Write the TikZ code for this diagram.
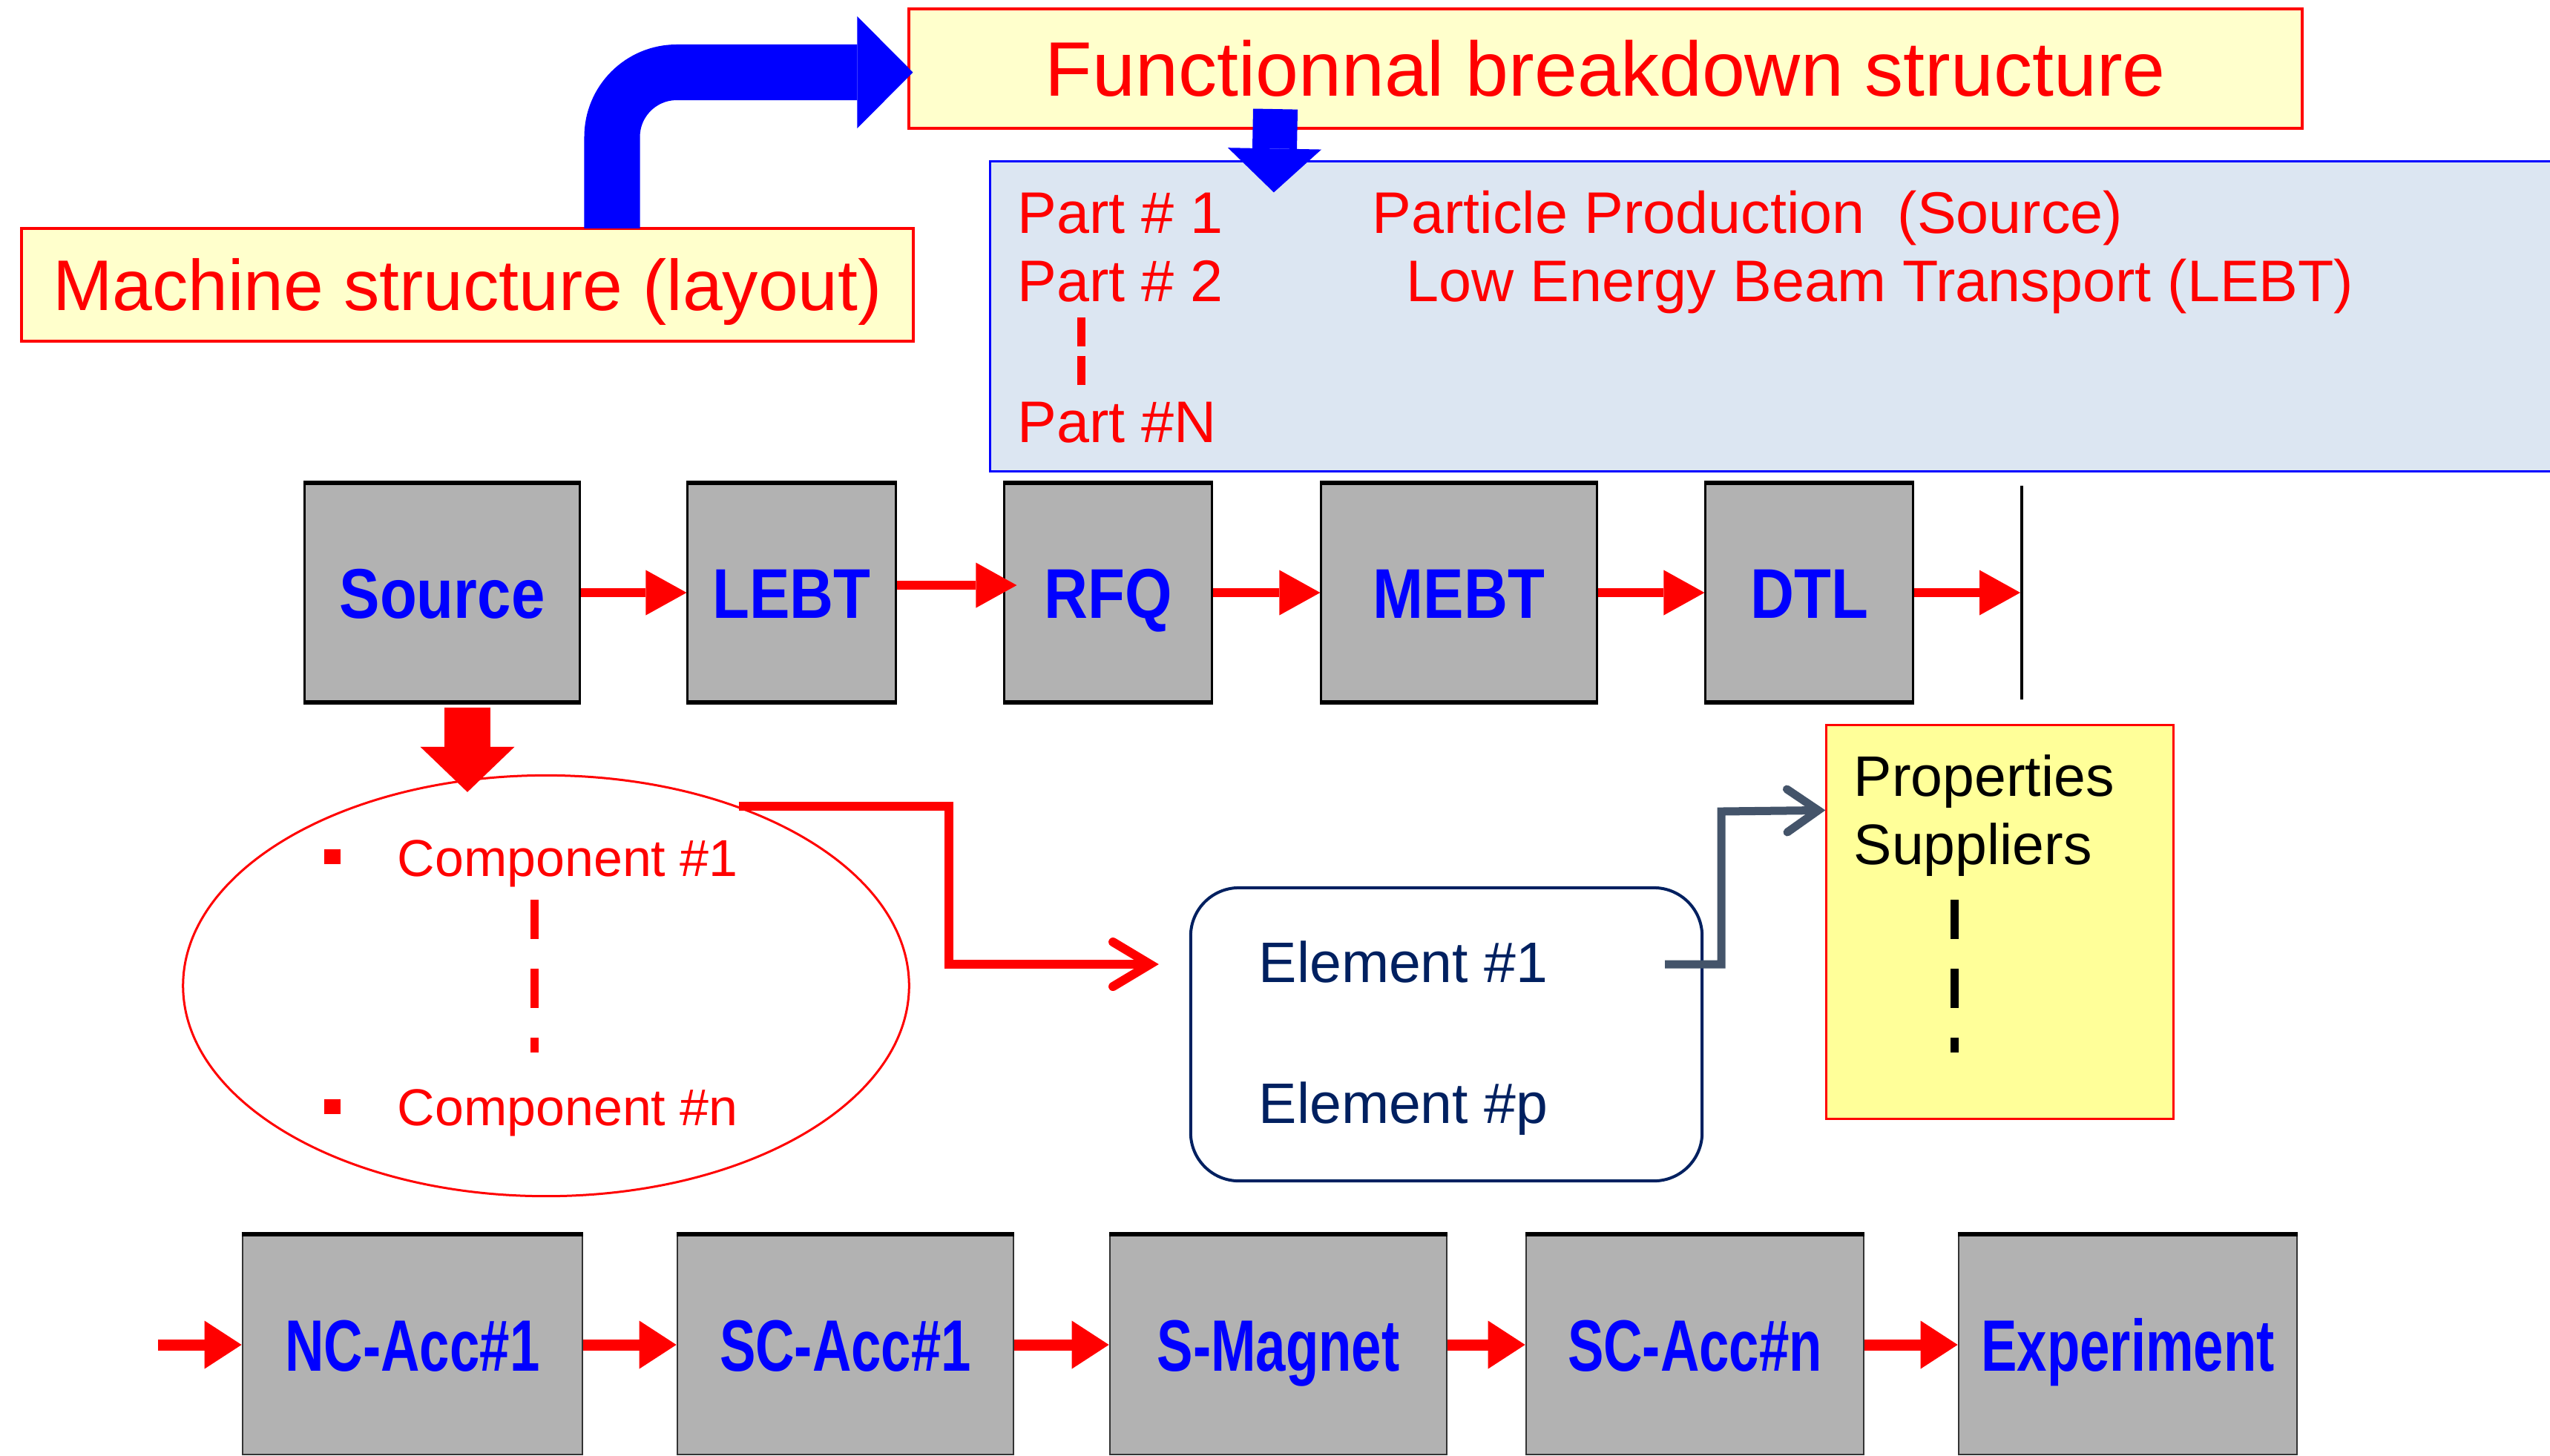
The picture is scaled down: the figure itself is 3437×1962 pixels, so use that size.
\documentclass[tikz,border=0pt]{standalone}
\usepackage{fontspec}
\usepackage{graphicx}
\setmainfont{Liberation Sans}
\newfontfamily\condA[FakeStretch=0.86]{Liberation Sans}
\newfontfamily\condB[FakeStretch=0.74]{Liberation Sans}
\usetikzlibrary{arrows.meta,shapes.geometric,calc}
\definecolor{lightyel}{HTML}{FFFFCC}
\definecolor{partsblue}{HTML}{DCE6F2}
\definecolor{boxgray}{HTML}{B2B2B2}
\definecolor{navy}{HTML}{002060}
\definecolor{slate}{HTML}{44546A}
\definecolor{propyel}{HTML}{FFFF99}
\begin{document}
\begin{tikzpicture}[x=0.01cm,y=-0.01cm,
  titlebox/.style={draw=red, line width=0.4mm, fill=lightyel, inner sep=0pt, text=red, text depth=0pt},
  graybox/.style={draw=black, line width=0.3mm, fill=boxgray, inner sep=0pt, minimum height=2.92cm,
    text=blue, text height=6.8mm, text depth=0pt, font=\fontsize{27pt}{30pt}\condA\bfseries},
  lowbox/.style={draw=black!80, line width=0.25mm, fill=boxgray, inner sep=0pt, minimum height=2.96cm,
    text=blue, text height=7mm, text depth=0pt, font=\fontsize{27.9pt}{31pt}\condB\bfseries},
  parttext/.style={text=red, inner sep=0pt, anchor=base west, font=\fontsize{22.5pt}{27pt}\selectfont},
  comptext/.style={text=red, inner sep=0pt, anchor=base west, font=\fontsize{19.9pt}{24pt}\selectfont},
  elemtext/.style={text=navy, inner sep=0pt, anchor=base west, font=\fontsize{21.9pt}{26pt}\selectfont},
  proptext/.style={text=black, inner sep=0pt, anchor=base west, font=\fontsize{21.9pt}{26pt}\selectfont},
  rowarrow/.style={draw=red, line width=1.2mm, -{Triangle[length=5.5mm,width=6.1mm,line width=0pt]}},
  botarrow/.style={draw=red, line width=1.5mm, -{Triangle[length=5mm,width=6.5mm,line width=0pt]}},
  bullet/.style={fill=red, inner sep=0pt, minimum width=2.2mm, minimum height=2mm}
]
\useasboundingbox (0,0) rectangle (3437,1962);
\clip (0,0) rectangle (3437,1962);

% title boxes
\node[titlebox, minimum width=18.76cm, minimum height=1.61cm, text height=7.3mm,
  font=\fontsize{29.6pt}{34pt}\selectfont] (fbs) at (2164,92.5) {Functionnal breakdown structure};
\node[titlebox, minimum width=12.02cm, minimum height=1.52cm, text height=6.9mm,
  font=\fontsize{27.5pt}{32pt}\selectfont] (machine) at (630,384) {Machine structure (layout)};

% parts box
\node[draw=blue, line width=0.3mm, fill=partsblue, inner sep=0pt, minimum width=21.25cm, minimum height=4.17cm] (parts) at (2397.5,426.5) {};
\node[parttext] (p1) at (1371,314) {Part \# 1};
\node[parttext] (p1t) at (1849,314) {Particle Production \ (Source)};
\node[parttext] (p2) at (1371,406) {Part \# 2};
\node[parttext] (p2t) at (1895,406) {Low Energy Beam Transport (LEBT)};
\node[parttext] (pN) at (1371,596) {Part \#N};
\draw[red, line width=1.1mm, dash pattern=on 3.9mm off 1.3mm] (1457,428) -- (1457,520);

% blue arrows
\draw[blue, line width=7.5mm, rounded corners=8.7mm, -{Triangle[length=7.5mm,width=15.1mm,line width=0pt]}]
  ($(machine.north)+(195,2)$) |- ($(fbs.west)+(7,5)$);
\draw[blue, line width=6mm, -{Triangle[length=5.9mm,width=12.6mm,line width=0pt]}]
  ($(fbs.south)+(-445,-28)$) -- ($(parts.north west)+(384,43)$);

% top row
\node[graybox, minimum width=3.70cm] (source) at (596,799) {Source};
\node[graybox, minimum width=2.80cm] (lebt) at (1067,799) {LEBT};
\node[graybox, minimum width=2.79cm] (rfq) at (1493.5,799) {RFQ};
\node[graybox, minimum width=3.71cm] (mebt) at (1966.5,799) {MEBT};
\node[graybox, minimum width=2.79cm] (dtl) at (2438.5,799) {DTL};
\node[draw=black, line width=0.4mm, inner sep=0pt, minimum width=0pt, minimum height=2.88cm] (next) at (2725,799) {};
\foreach \n in {source,lebt,rfq,mebt,dtl}{
  \draw[line width=0.6mm] (\n.north west) -- (\n.north east);
  \draw[line width=0.6mm] (\n.south west) -- (\n.south east);
}
\draw[rowarrow] (source.east) -- (lebt.west);
\draw[rowarrow] ($(lebt.east)+(0,-10)$) -- ($(rfq.west)+(18,-10)$);
\draw[rowarrow] (rfq.east) -- (mebt.west);
\draw[rowarrow] (mebt.east) -- (dtl.west);
\draw[rowarrow] (dtl.east) -- (next.west);

% components ellipse
\node[ellipse, draw=red, line width=0.3mm, inner sep=0pt, minimum width=9.78cm, minimum height=5.67cm] (comp) at (736,1329) {};
\draw[red, line width=6.1mm, -{Triangle[length=6.1mm,width=12.7mm,line width=0pt]}]
  ($(source.south)+(34,7)$) -- ($(comp.north)+(-106,24)$);
\node[bullet] (b1) at (448,1155) {};
\node[bullet] (b2) at (448,1491.5) {};
\node[comptext] (c1) at (535,1181) {Component \#1};
\node[comptext] (cn) at (535,1517) {Component \#n};
\draw[red, line width=1.1mm, dash pattern=on 5.3mm off 4mm] (720,1213) -- (720,1419);

% elements box
\node[draw=navy, line width=0.4mm, rounded corners=6.5mm, inner sep=0pt, minimum width=6.89cm, minimum height=3.95cm] (elem) at (1949.5,1394.5) {};
\node[elemtext] (e1) at (1696,1324) {Element \#1};
\node[elemtext] (ep) at (1696,1514) {Element \#p};

\coordinate (elbowR) at (1279,1300);
\coordinate (elemtip) at ($(elem.west)+(-41,-94.5)$);
\draw[red, line width=1.2mm, -{Straight Barb[length=5mm,width=6mm,line cap=round]}]
  (comp.43) -| (elbowR) -- (elemtip);

% properties box
\node[draw=red, fill=propyel, line width=0.3mm, inner sep=0pt, minimum width=4.67cm, minimum height=5.30cm] (props) at (2695.5,1243) {};
\node[proptext] (pr1) at (2498,1073) {Properties};
\node[proptext] (pr2) at (2498,1165) {Suppliers};
\draw[black, line width=1.1mm, dash pattern=on 5.3mm off 4mm] (2634,1213) -- (2634,1419);

\coordinate (g0) at ($(elem.east)+(-52,-94.5)$);
\coordinate (gturn) at (2320,1094);
\coordinate (ptip) at ($(props.north west)+(0,116)$);
\draw[slate, line width=1.1mm, -{Straight Barb[length=4.2mm,width=5.8mm,line cap=round]}]
  (g0) -| (gturn) -- (ptip);

% bottom row
\node[lowbox, minimum width=4.58cm] (nc) at (556,1813) {NC-Acc\#1};
\node[lowbox, minimum width=4.53cm] (sc1) at (1139.5,1813) {SC-Acc\#1};
\node[lowbox, minimum width=4.54cm] (smag) at (1723,1813) {S-Magnet};
\node[lowbox, minimum width=4.55cm] (scn) at (2284.5,1813) {SC-Acc\#n};
\node[lowbox, minimum width=4.56cm] (exp) at (2868,1813) {Experiment};
\foreach \n in {nc,sc1,smag,scn,exp}{
  \draw[line width=0.6mm] (\n.north west) -- (\n.north east);
}
\coordinate (bstart) at (213,1813);
\draw[botarrow] (bstart) -- (nc.west);
\draw[botarrow] (nc.east) -- (sc1.west);
\draw[botarrow] (sc1.east) -- (smag.west);
\draw[botarrow] (smag.east) -- (scn.west);
\draw[botarrow] (scn.east) -- (exp.west);
\end{tikzpicture}
\end{document}
